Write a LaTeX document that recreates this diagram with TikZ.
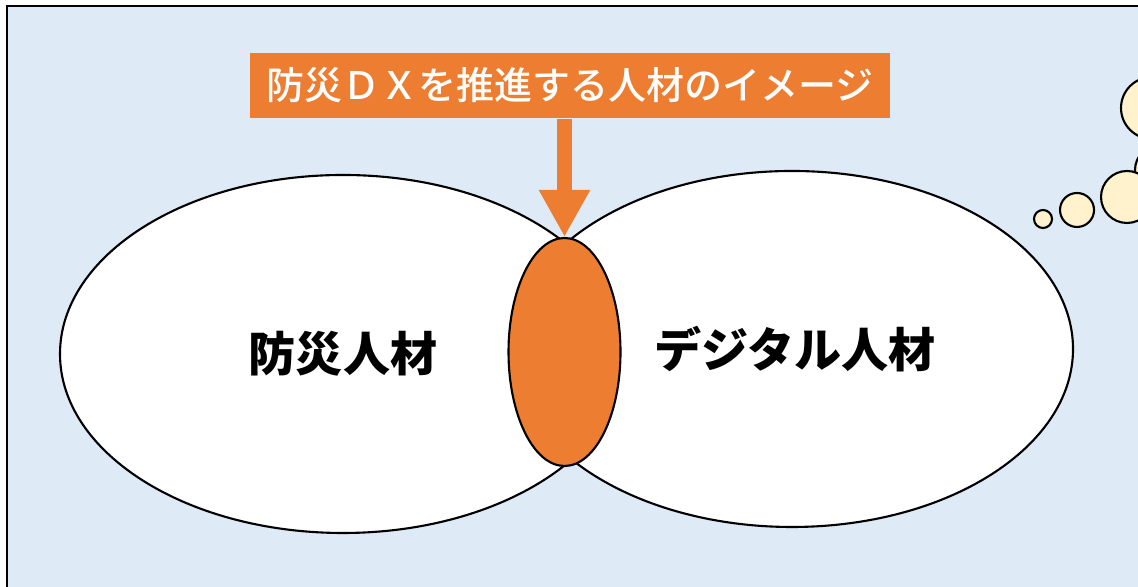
\documentclass[tikz,border=0pt]{standalone}
\usepackage{fontspec}
\setmainfont{Noto Sans CJK JP}
\newfontfamily\mittel{Noto Sans CJK JP Medium}
\usetikzlibrary{shapes.geometric,arrows.meta}
\definecolor{hinter}{HTML}{DEEAF6}
\definecolor{dxorange}{HTML}{ED7D31}
\definecolor{blasenfarbe}{HTML}{FFF2CC}
\begin{document}
\begin{tikzpicture}[>=latex,
	kreis/.style={ellipse,draw,line width=0.6pt,inner sep=0pt},
	blase/.style={draw,fill=blasenfarbe,line width=0.6pt},
	gross/.style={font=\bfseries\fontsize{13.4}{16}\selectfont}]
\useasboundingbox (0,0) rectangle (11.38,5.87);
\clip (0,0) rectangle (11.38,5.87);
\draw[fill=hinter,line width=0.7pt] (0.072,-0.5) rectangle (11.8,5.81);
\foreach \x/\y/\r in {10.43/3.68/0.09,10.77/3.77/0.17,11.60/4.17/0.25,11.27/3.90/0.26,11.52/4.79/0.31}{
	\draw[blase] (\x,\y) circle[radius=\r];
}
\node[kreis,fill=white,minimum width=5.66cm,minimum height=3.58cm,gross] (bousai) at (3.43,2.33) {防災人材};
\node[kreis,fill=white,minimum width=5.62cm,minimum height=3.56cm,gross] (digital) at (7.92,2.38) {\hspace{0.06cm}デジタル人材};
\node[kreis,fill=dxorange,minimum width=1.12cm,minimum height=2.28cm] (dx) at (5.645,2.35) {};
\node[fill=dxorange,text=white,minimum width=6.4cm,minimum height=0.65cm,inner sep=0pt,
	font=\mittel\fontsize{10.8}{13}\selectfont] (titel) at (5.70,5.015) {防災ＤＸを推進する人材のイメージ};
\draw[-{Triangle[width=4.8mm,length=4.7mm]},dxorange,line width=1.5mm] (titel.south -| dx.north) -- (dx.north);
\end{tikzpicture}
\end{document}
